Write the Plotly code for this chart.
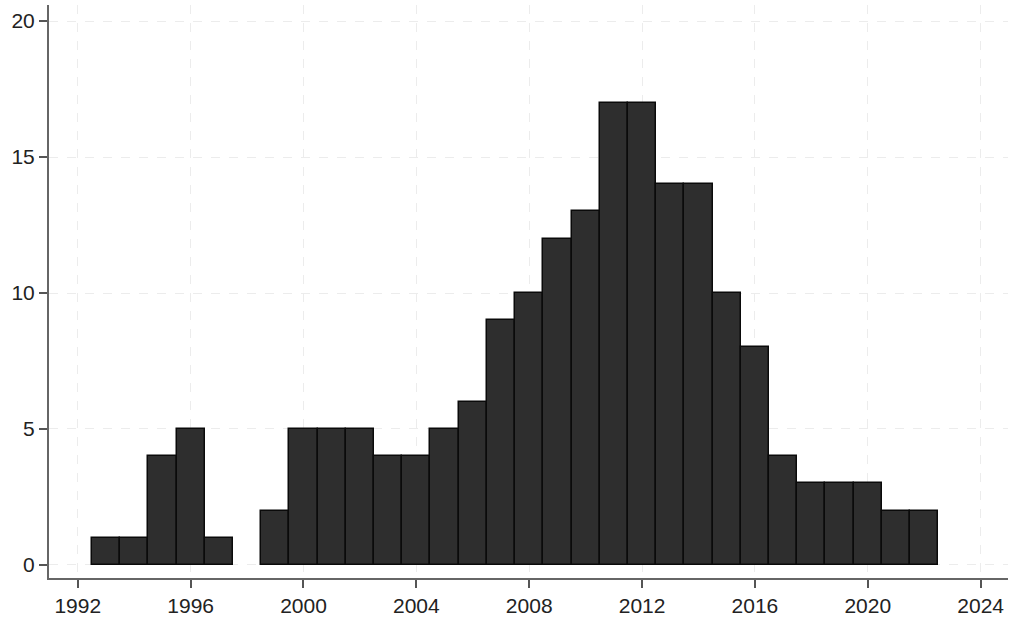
import plotly.graph_objects as go

years = list(range(1993, 2023))
counts = [1, 1, 4, 5, 1, 0, 2, 5, 5, 5, 4, 4, 5, 6, 9, 10, 12, 13, 17, 17,
          14, 14, 10, 8, 4, 3, 3, 3, 2, 2]
x_ticks = list(range(1992, 2025, 4))
y_ticks = [0, 5, 10, 15, 20]

xs = [y for y, c in zip(years, counts) if c > 0]
ys = [c for c in counts if c > 0]

fig = go.Figure(go.Bar(
    x=xs, y=ys, width=1,
    marker=dict(color="#2e2e2e", line=dict(color="#0a0a0a", width=1.5)),
))

fig.update_layout(
    width=1011, height=621,
    margin=dict(l=49, r=3, t=5, b=43),
    paper_bgcolor="white", plot_bgcolor="white",
    font=dict(family="Liberation Sans, Arial", size=21, color="#222"),
    showlegend=False, bargap=0,
)
fig.update_xaxes(
    range=[1990.98, 2024.97], tickvals=x_ticks,
    showgrid=True, gridcolor="#ececec", griddash="dash", gridwidth=1,
    showline=True, linecolor="#666", linewidth=2,
    ticks="outside", ticklen=8, tickcolor="#555", tickwidth=2,
    zeroline=False,
)
fig.update_yaxes(
    range=[-0.48, 20.59], tickvals=y_ticks,
    showgrid=True, gridcolor="#ececec", griddash="dash", gridwidth=1,
    showline=True, linecolor="#666", linewidth=2,
    ticks="outside", ticklen=8, tickcolor="#555", tickwidth=2,
    zeroline=False,
)

fig.write_html("out.html")
